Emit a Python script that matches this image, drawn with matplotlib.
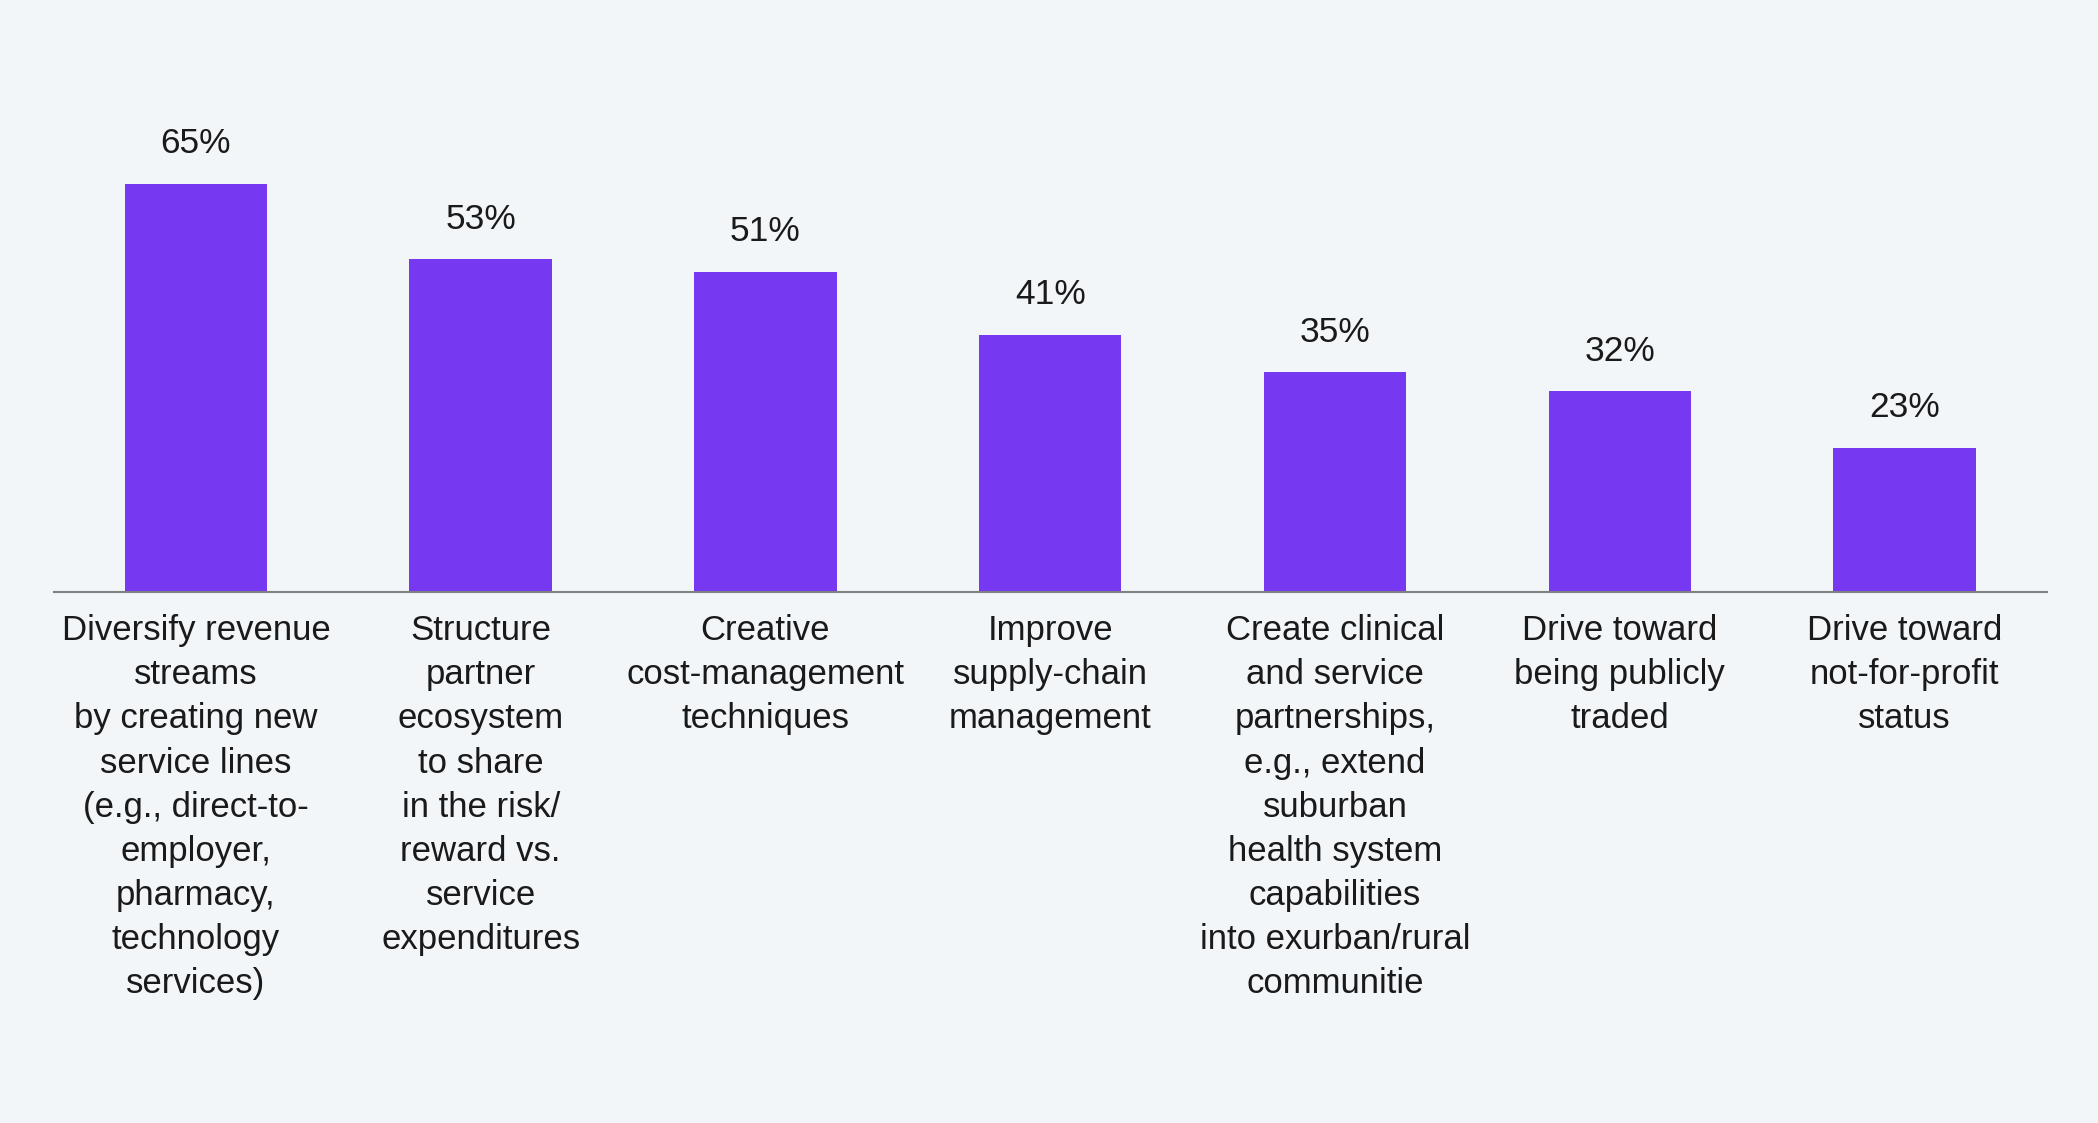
import matplotlib
matplotlib.use("Agg")
import matplotlib.pyplot as plt

categories = [
    "Diversify revenue\nstreams\nby creating new\nservice lines\n(e.g., direct-to-\nemployer,\npharmacy,\ntechnology\nservices)",
    "Structure\npartner\necosystem\nto share\nin the risk/\nreward vs.\nservice\nexpenditures",
    "Creative\ncost-management\ntechniques",
    "Improve\nsupply-chain\nmanagement",
    "Create clinical\nand service\npartnerships,\ne.g., extend\nsuburban\nhealth system\ncapabilities\ninto exurban/rural\ncommunitie",
    "Drive toward\nbeing publicly\ntraded",
    "Drive toward\nnot-for-profit\nstatus",
]
values = [65, 53, 51, 41, 35, 32, 23]

BG = "#F2F6F9"
BAR = "#7638F0"
TXT = "#1A1A1A"

plt.rcParams['font.family'] = ['Liberation Sans', 'DejaVu Sans']

W, H = 2098, 1123
fig = plt.figure(figsize=(W/100, H/100), dpi=100, facecolor=BG)
left, right = 53.5/W, 2047/W
bottom = (H-592)/H
top = (H-100)/H
ax = fig.add_axes([left, bottom, right-left, top-bottom], facecolor=BG)

x = list(range(len(values)))
ax.bar(x, values, width=0.5, color=BAR, zorder=2)
ax.set_xlim(-0.5, len(values)-0.5)
ax.set_ylim(0, (592-100)/6.28)

for s in ['top', 'right', 'left']:
    ax.spines[s].set_visible(False)
ax.spines['bottom'].set_color('#808080')
ax.spines['bottom'].set_linewidth(1.5)
ax.set_yticks([])
ax.set_xticks([])

for xi, v, c in zip(x, values, categories):
    ax.annotate(f"{v}%", xy=(xi, v), xytext=(0, 40), textcoords='offset pixels',
                ha='center', va='center', fontsize=25.5, color=TXT)
    ax.annotate(c, xy=(xi, 0), xytext=(0, -22), textcoords='offset pixels',
                ha='center', va='top', fontsize=25, color=TXT, linespacing=1.43,
                annotation_clip=False)

fig.savefig("out.png", dpi=100, facecolor=BG)
